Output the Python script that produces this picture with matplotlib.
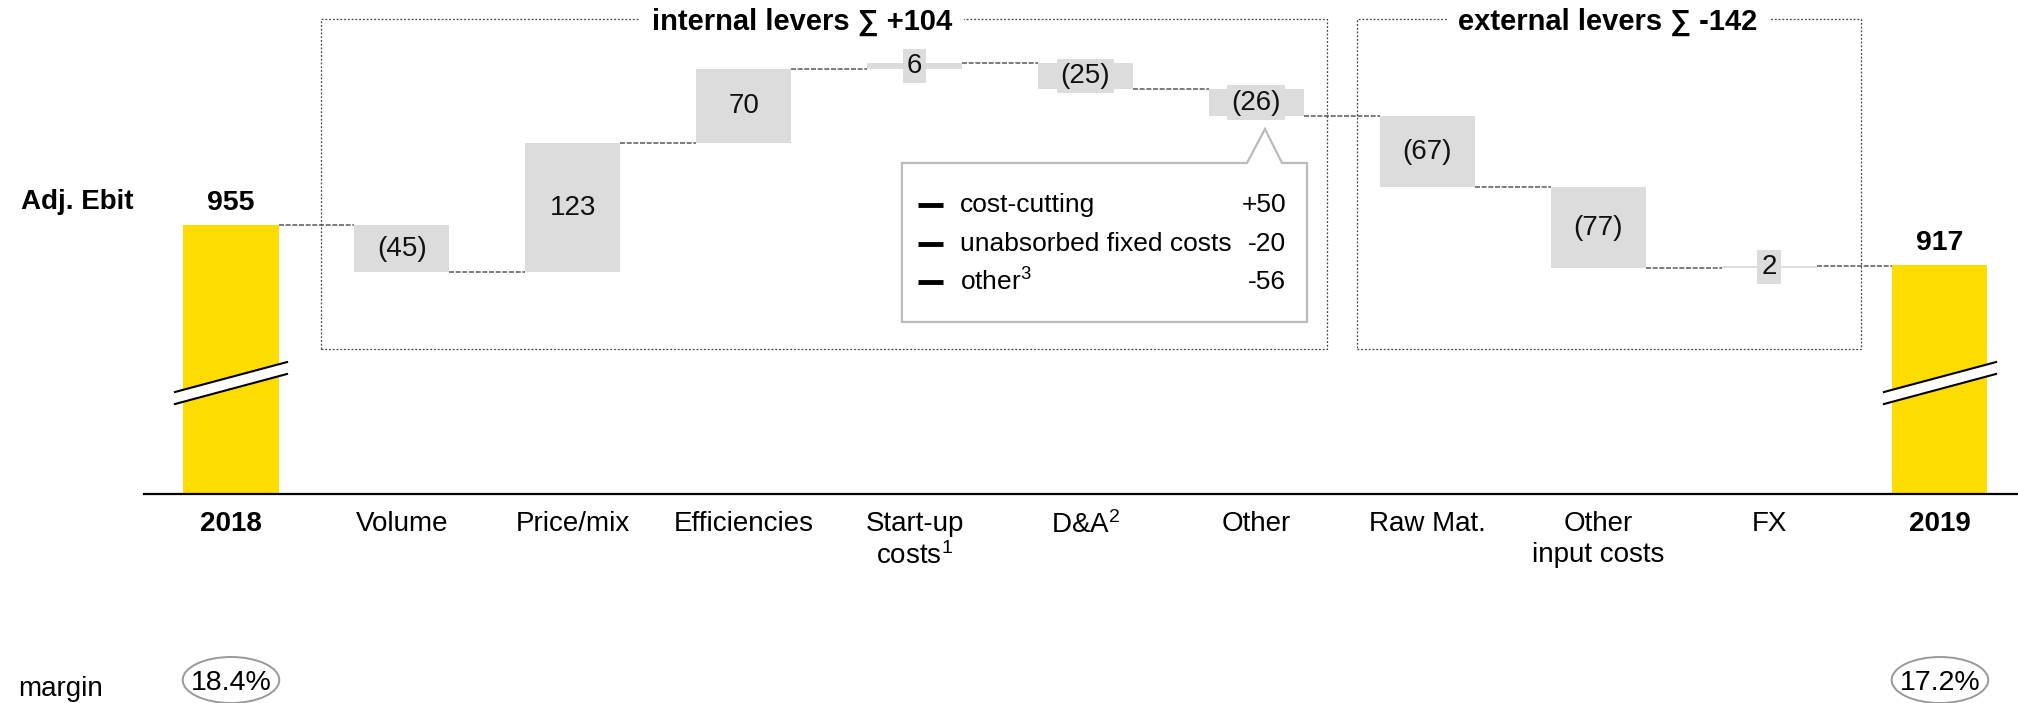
import numpy as np
import matplotlib as mpl
mpl.use('Agg')
import matplotlib.pyplot as plt
from matplotlib.patches import Ellipse, Polygon, Rectangle

plt.rcParams['font.family'] = ['Liberation Sans', 'DejaVu Sans']
plt.rcParams['mathtext.fontset'] = 'custom'
plt.rcParams['mathtext.rm'] = 'Liberation Sans'
plt.rcParams['mathtext.it'] = 'Liberation Sans:italic'
plt.rcParams['mathtext.bf'] = 'Liberation Sans:bold'

# data
categories = ['2018', 'Volume', 'Price/mix', 'Efficiencies', 'Start-up\ncosts$^\\mathrm{1}$',
              'D&A$^\\mathrm{2}$', 'Other', 'Raw Mat.', 'Other\ninput costs', 'FX', '2019']
start_value = 955
end_value = 917
deltas = [-45, 123, 70, 6, -25, -26, -67, -77, 2]
margins = ['18.4%', '17.2%']
groups = ['internal levers ∑ +104', 'external levers ∑ -142']
callout_items = ['cost-cutting', 'unabsorbed fixed costs', 'other$^\\mathrm{3}$']
callout_values = ['+50', '-20', '-56']

YELLOW = '#FFDC00'
GREY = '#DCDCDC'
BASE = 700
W = 0.556

fig = plt.figure(figsize=(20.18, 7.03), dpi=100)
ax = fig.add_axes([0, 0, 1, 1])
ax.set_xlim(-1.3517, 10.4565)
ax.set_ylim(501.9, 1168.3)
ax.axis('off')

n = len(categories)
x = np.arange(n)

# totals
totals = [start_value, end_value]
for xi, val in zip([0, n - 1], totals):
    ax.bar(xi, val - BASE, bottom=BASE, width=W, color=YELLOW, zorder=2)
    ax.text(xi, val + 21, str(val), ha='center', va='center', fontsize=20.5,
            fontweight='bold', zorder=5)
    # axis break
    l, r = xi - 0.328, xi + 0.328
    ax.add_patch(Polygon([(l, 785.3), (r, 813.8), (r, 825.1), (l, 796.7)],
                         closed=True, facecolor='white', edgecolor='none', zorder=3))
    ax.plot([l, r], [785.3, 813.8], color='black', lw=1.5, zorder=4)
    ax.plot([l, r], [796.7, 825.1], color='black', lw=1.5, zorder=4)

# floating bars
levels = [start_value]
for d in deltas:
    levels.append(levels[-1] + d)
for k, d in enumerate(deltas):
    xi = k + 1
    lo = min(levels[k], levels[k + 1])
    ax.bar(xi, abs(d), bottom=lo, width=W, color=GREY, zorder=2)
    lab = '({})'.format(abs(d)) if d < 0 else str(d)
    ax.text(xi, lo + abs(d) / 2, lab, ha='center', va='center', fontsize=20,
            color='#111111', zorder=5,
            bbox=dict(boxstyle='square,pad=0.15', facecolor=GREY, edgecolor='none'))

# connectors
levels.append(end_value)
for k in range(n - 1):
    ax.plot([k + W / 2, k + 1 - W / 2], [levels[k], levels[k]], color='#666666',
            lw=1.2, linestyle=(0, (3, 1)), zorder=1)

# baseline
ax.plot([-0.509, 10.4565], [BASE, BASE], color='black', lw=1.6, zorder=3)

# category labels
for xi, cat in zip(x, categories):
    bold = xi in (0, n - 1)
    ax.text(xi, 683.9, cat, ha='center', va='top', fontsize=20, linespacing=1.25,
            fontweight='bold' if bold else 'normal', multialignment='center')

ax.text(-1.229, 976.8, 'Adj. Ebit', ha='left', va='center', fontsize=20, fontweight='bold')

# group boxes
boxes = [(0.527, 6.413), (6.589, 9.538)]
title_x = [3.341, 8.057]
for (bl, br), tx, title in zip(boxes, title_x, groups):
    ax.add_patch(Rectangle((bl, 837.5), br - bl, 1150.3 - 837.5, fill=False,
                           edgecolor='#444444', lw=0.9, linestyle=(0, (1.5, 1.5)), zorder=1))
    ax.text(tx, 1148, title, ha='center', va='center',
            fontsize=21, fontweight='bold', zorder=6,
            bbox=dict(boxstyle='square,pad=0.4', facecolor='white', edgecolor='none'))

# callout
ax.add_patch(Polygon([(3.926, 1013.8), (5.945, 1013.8), (6.050, 1046.0), (6.150, 1013.8),
                      (6.296, 1013.8), (6.296, 863.1), (3.926, 863.1)], closed=True,
                     facecolor='white', edgecolor='#BBBBBB', lw=1.6, zorder=7))
for yv, item, val in zip([974.0, 937.0, 901.0], callout_items, callout_values):
    ax.plot([4.02, 4.166], [yv, yv], color='black', lw=3.5, solid_capstyle='butt', zorder=8)
    ax.text(4.266, yv, item, ha='left', va='center', fontsize=19, zorder=8)
    ax.text(6.173, yv, val, ha='right', va='center', fontsize=19, zorder=8)

# margins
ax.text(-1.246, 515.2, 'margin', ha='left', va='center', fontsize=20)
for xi, m in zip([0, n - 1], margins):
    ax.add_patch(Ellipse((xi, 523.7), width=0.565, height=43.6, fill=False,
                         edgecolor='#999999', lw=1.4))
    ax.text(xi, 521, m, ha='center', va='center', fontsize=20.5)

fig.savefig('out.png', dpi=100)
